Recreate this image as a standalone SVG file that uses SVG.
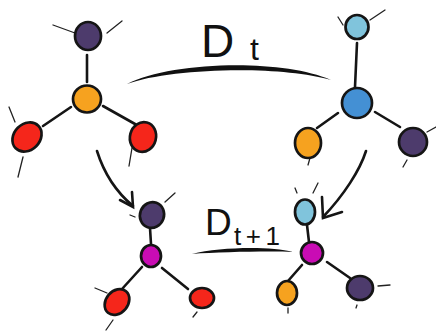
<svg xmlns="http://www.w3.org/2000/svg" width="436" height="332" viewBox="0 0 436 332">
<style>
.n{stroke:#151515;stroke-width:2.7}
.b{stroke:#151515;stroke-width:2.6;stroke-linecap:round;fill:none}
.t{stroke:#222;stroke-width:1.3;stroke-linecap:round;fill:none}
.pu{fill:#4d3b6c}.or{fill:#f6a21f}.re{fill:#f5261b}.lb{fill:#80c4dc}.bl{fill:#4490d4}.mg{fill:#c90cb4}
.lbl{font-family:"Liberation Sans",Arial,sans-serif;fill:#111}
</style>
<rect width="436" height="332" fill="#fff"/>
<g id="connectors">
<path d="M127,84 C170,62 280,58 331,80 C280,65 170,68 127,84 Z" fill="#111"/>
<path d="M192,254 C220,247 270,246 293,252 C270,251 220,252 192,254 Z" fill="#111"/>
<path d="M97,151 C103,170 115,191 133,206" class="b" stroke-width="3.2"/>
<path d="M120,200 L133,207 L132,192" class="b" stroke-width="2"/>
<path d="M366,151 C360,170 344,195 323,217" class="b" stroke-width="3.2"/>
<path d="M322,197 L323,218 L342,212" class="b" stroke-width="2"/>
</g>
<g id="label-top"><text class="lbl" x="201" y="57" font-size="46">D</text><text class="lbl" x="250" y="60" font-size="32">t</text></g>
<g id="label-bottom"><text class="lbl" x="205" y="235" font-size="37">D</text><text class="lbl" x="234" y="245" font-size="26" textLength="46" lengthAdjust="spacing">t+1</text></g>
<g id="mol-tl">
<line class="b" x1="87" y1="55" x2="87" y2="82"/>
<line class="b" x1="71" y1="107" x2="43" y2="126"/>
<line class="b" x1="103" y1="106" x2="135" y2="124"/>
<path class="t" d="M53,25 L75,33 M107,33 L122,21 M9,107 L15,122 M23,157 L18,177 M132,148 L129,166"/>
<g id="tl-purple"><ellipse class="n pu" cx="88" cy="36" rx="13" ry="14"/></g>
<g id="tl-orange"><ellipse class="n or" cx="87" cy="99" rx="14" ry="13.5"/></g>
<g id="tl-red1"><ellipse class="n re" cx="27" cy="137" rx="16" ry="13" transform="rotate(-45 27 137)"/></g>
<g id="tl-red2"><ellipse class="n re" cx="143" cy="137" rx="13" ry="15" transform="rotate(15 143 137)"/></g>
</g>
<g id="mol-tr">
<line class="b" x1="357" y1="43" x2="355" y2="87"/>
<line class="b" x1="338" y1="113" x2="317" y2="128"/>
<line class="b" x1="375" y1="112" x2="400" y2="127"/>
<path class="t" d="M338,17 L343,25 M370,20 L385,10 M427,132 L436,127 M407,160 L403,167 M310,158 L308,165"/>
<g id="tr-lightblue"><ellipse class="n lb" cx="357" cy="27" rx="11.5" ry="12"/></g>
<g id="tr-blue"><ellipse class="n bl" cx="357" cy="103" rx="15" ry="15"/></g>
<g id="tr-orange"><ellipse class="n or" cx="308" cy="143" rx="13" ry="15"/></g>
<g id="tr-purple"><ellipse class="n pu" cx="413" cy="142" rx="14" ry="14"/></g>
</g>
<g id="mol-bl">
<line class="b" x1="150" y1="228" x2="151" y2="244"/>
<line class="b" x1="142" y1="267" x2="122" y2="289"/>
<line class="b" x1="162" y1="268" x2="188" y2="289"/>
<path class="t" d="M165,202 L175,193 M130,215 L135,217 M95,288 L107,293 M113,320 L106,330 M197,312 L193,317"/>
<g id="bl-purple"><ellipse class="n pu" cx="152" cy="215" rx="12" ry="13" transform="rotate(20 152 215)"/></g>
<g id="bl-magenta"><ellipse class="n mg" cx="151" cy="256" rx="10" ry="11"/></g>
<g id="bl-red1"><ellipse class="n re" cx="117" cy="302" rx="14" ry="11" transform="rotate(-50 117 302)"/></g>
<g id="bl-red2"><ellipse class="n re" cx="202" cy="298" rx="12" ry="10"/></g>
</g>
<g id="mol-br">
<line class="b" x1="307" y1="225" x2="309" y2="242"/>
<line class="b" x1="302" y1="265" x2="288" y2="281"/>
<line class="b" x1="327" y1="262" x2="350" y2="278"/>
<path class="t" d="M295,188 L297,193 M313,193 L318,183 M378,286 L390,285 M357,305 L356,308 M288,308 L288,313"/>
<g id="br-lightblue"><ellipse class="n lb" cx="305" cy="212" rx="10" ry="12.5"/></g>
<g id="br-magenta"><ellipse class="n mg" cx="312" cy="253" rx="11" ry="11"/></g>
<g id="br-orange"><ellipse class="n or" cx="287" cy="293" rx="10" ry="12"/></g>
<g id="br-purple"><ellipse class="n pu" cx="360" cy="288" rx="13" ry="12"/></g>
</g>
</svg>
